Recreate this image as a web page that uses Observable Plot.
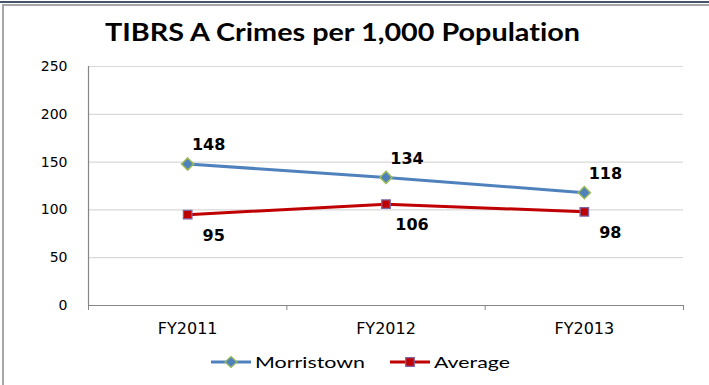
<!DOCTYPE html>
<html>
<head>
<meta charset="utf-8">
<script src="https://cdn.jsdelivr.net/npm/d3@7"></script>
<script src="https://cdn.jsdelivr.net/npm/@observablehq/plot@0.6"></script>
<style>
  html, body { margin: 0; padding: 0; background: #fff; }
  #frame { position: relative; width: 709px; height: 385px; overflow: hidden; background: #fff; }
  .abs { position: absolute; }
  #topDark { left: 0; top: 1px; width: 709px; height: 2px; background: #44546a; }
  #topGray { left: 2px; top: 4px; width: 707px; height: 1.5px; background: #a6a6a6; }
  #leftGray { left: 2px; top: 4px; width: 1.5px; height: 381px; background: #a6a6a6; }
  svg text { font-variant-ligatures: none; }
</style>
</head>
<body>
<div id="frame">
  <div id="chart" class="abs" style="left:0;top:0;"></div>
  <svg id="title" class="abs" style="left:0;top:0;" width="709" height="60"></svg>
  <svg id="legend" class="abs" style="left:0;top:340px;" width="709" height="45"></svg>
  <div id="topDark" class="abs"></div>
  <div id="topGray" class="abs"></div>
  <div id="leftGray" class="abs"></div>
</div>
<script>
const titleText = "TIBRS A Crimes per 1,000 Population";
const categories = ["FY2011", "FY2012", "FY2013"];
const morristown = [148, 134, 118];
const average = [95, 106, 98];
const yTicks = [0, 50, 100, 150, 200, 250];
const seriesNames = ["Morristown", "Average"];
const seriesColors = ["#4f81bd", "#c00000"];
const markerStrokes = ["#9bbb59", "#8064a2"];

const rows = categories.map((c, i) => ({ i: i + 0.5, c, m: morristown[i], a: average[i] }));

const chart = Plot.plot({
  width: 709,
  height: 385,
  marginLeft: 88,
  marginRight: 26,
  marginTop: 66,
  marginBottom: 80,
  style: { fontFamily: "DejaVu Sans", background: "transparent", overflow: "visible", color: "#000" },
  x: { type: "linear", domain: [0, categories.length] },
  y: { domain: [0, 250] },
  marks: [
    Plot.gridY(yTicks.slice(1), { stroke: "#d9d9d9", strokeOpacity: 1, strokeWidth: 1.2 }),
    Plot.axisY(yTicks, { tickSize: 0, tickPadding: 21, fontSize: 14, label: null }),
    Plot.axisX(d3.range(categories.length + 1), { tickSize: 5, tickFormat: () => "", stroke: "#868686", label: null }),
    Plot.axisX(rows.map(d => d.i), { tickSize: 0, tickPadding: 17, fontSize: 16, tickFormat: d => categories[Math.floor(d)], label: null }),
    Plot.ruleY([0], { stroke: "#868686", strokeWidth: 1.2 }),
    Plot.ruleX([0], { stroke: "#868686", strokeWidth: 1.2 }),
    Plot.line(rows, { x: "i", y: "m", stroke: seriesColors[0], strokeWidth: 3 }),
    Plot.line(rows, { x: "i", y: "a", stroke: seriesColors[1], strokeWidth: 3 }),
    Plot.dot(rows, { x: "i", y: "m", symbol: "diamond2", r: 5.5, fill: seriesColors[0], stroke: markerStrokes[0], strokeWidth: 1.5 }),
    Plot.dot(rows, { x: "i", y: "a", symbol: "square", r: 4.8, fill: seriesColors[1], stroke: markerStrokes[1], strokeWidth: 1.3 }),
    Plot.text(rows, { x: "i", y: "m", text: d => String(d.m), dx: 21, dy: -19, fontWeight: "bold", fontSize: 16, fill: "#000" }),
    Plot.text(rows, { x: "i", y: "a", text: d => String(d.a), dx: 26, dy: 21, fontWeight: "bold", fontSize: 16, fill: "#000" })
  ]
});
document.getElementById("chart").appendChild(chart);

// Title
const svgNS = "http://www.w3.org/2000/svg";
const t = document.createElementNS(svgNS, "text");
t.setAttribute("x", 105);
t.setAttribute("y", 41);
t.setAttribute("textLength", 475);
t.setAttribute("lengthAdjust", "spacingAndGlyphs");
t.setAttribute("font-family", "Lato, 'Open Sans', sans-serif");
t.setAttribute("font-weight", "bold");
t.setAttribute("font-size", 24);
t.setAttribute("fill", "#000");
t.textContent = titleText;
document.getElementById("title").appendChild(t);

// Legend
const lg = document.getElementById("legend");
const legendItems = [
  { x0: 211, x1: 251, tx: 255, tw: 110, symbol: "diamond" },
  { x0: 390, x1: 430, tx: 434, tw: 76, symbol: "square" }
];
legendItems.forEach((it, k) => {
  const cy = 22;
  const ln = document.createElementNS(svgNS, "line");
  ln.setAttribute("x1", it.x0); ln.setAttribute("x2", it.x1);
  ln.setAttribute("y1", cy); ln.setAttribute("y2", cy);
  ln.setAttribute("stroke", seriesColors[k]); ln.setAttribute("stroke-width", 3);
  lg.appendChild(ln);
  const cx = (it.x0 + it.x1) / 2;
  const mk = document.createElementNS(svgNS, "path");
  if (it.symbol === "diamond") {
    mk.setAttribute("d", `M${cx},${cy - 5.5}L${cx + 6},${cy}L${cx},${cy + 5.5}L${cx - 6},${cy}Z`);
  } else {
    mk.setAttribute("d", `M${cx - 4.3},${cy - 4.3}h8.6v8.6h-8.6Z`);
  }
  mk.setAttribute("fill", seriesColors[k]);
  mk.setAttribute("stroke", markerStrokes[k]);
  mk.setAttribute("stroke-width", 1.2);
  lg.appendChild(mk);
  const tx = document.createElementNS(svgNS, "text");
  tx.setAttribute("x", it.tx);
  tx.setAttribute("y", 28.3);
  tx.setAttribute("textLength", it.tw);
  tx.setAttribute("lengthAdjust", "spacingAndGlyphs");
  tx.setAttribute("font-family", "Lato, 'Open Sans', sans-serif");
  tx.setAttribute("font-size", 15);
  tx.setAttribute("fill", "#000");
  tx.textContent = seriesNames[k];
  lg.appendChild(tx);
});
</script>
</body>
</html>
